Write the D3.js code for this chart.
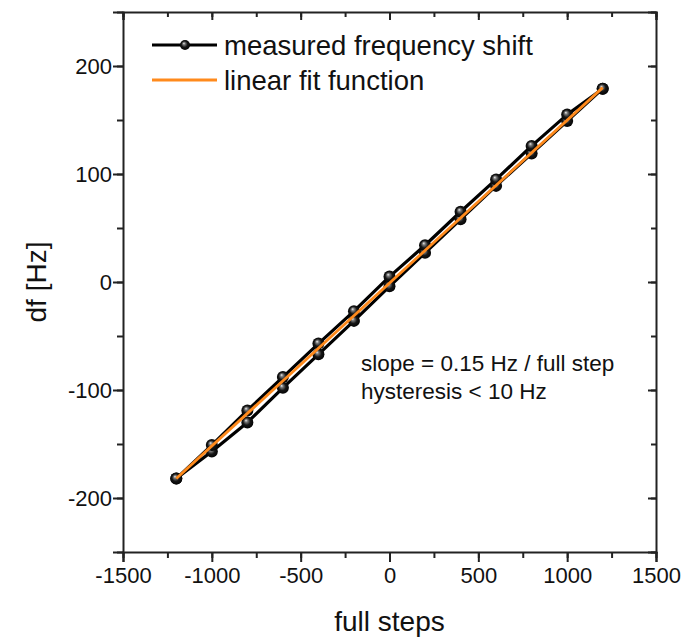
<!DOCTYPE html>
<html>
<head>
<meta charset="utf-8">
<script src="https://cdn.jsdelivr.net/npm/d3@7"></script>
<style>
    body { margin: 0; background: #fff; }
    svg text { font-family: Arial, "Liberation Sans", sans-serif; fill: #111; }
</style>
</head>
<body>
<svg id="chart" width="687" height="637"></svg>
<script>
// ---- data ----
const stepsUp = [-1200, -1000, -800, -600, -400, -200, 0, 200, 400, 600, 800, 1000, 1200];
const dfUp    = [-182, -157, -130, -98, -67, -36, -4, 27, 58, 89, 119, 149, 179];
const stepsDown = [1200, 1000, 800, 600, 400, 200, 0, -200, -400, -600, -800, -1000, -1200];
const dfDown    = [179, 155, 126, 95, 65, 34, 5, -27, -57, -88, -119, -151, -182];
const fitSteps = [-1200, 1200];
const fitDf    = [-182, 180];

const xTicks = [-1500, -1000, -500, 0, 500, 1000, 1500];
const yTicks = [-200, -100, 0, 100, 200];
const legendLabels = ['measured frequency shift', 'linear fit function'];
const noteLines = ['slope = 0.15 Hz / full step', 'hysteresis < 10 Hz'];

const orange = '#ff8a1c';
const fontStack = 'Arial, "Liberation Sans", sans-serif';

// ---- layout ----
const plotLeft = 123, plotRight = 656, plotTop = 12, plotBottom = 552;

const svg = d3.select('#chart');

const x = d3.scaleLinear().domain([-1500, 1500]).range([plotLeft, plotRight]);
const y = d3.scaleLinear().domain([-250, 250]).range([plotBottom, plotTop]);

// gradient for the spherical markers (mostly black, small highlight)
const defs = svg.append('defs');
const grad = defs.append('radialGradient')
    .attr('id', 'sphere')
    .attr('cx', '0.5').attr('cy', '0.5').attr('r', '0.55')
    .attr('fx', '0.38').attr('fy', '0.32');
grad.append('stop').attr('offset', '0%').attr('stop-color', '#f0f0f0');
grad.append('stop').attr('offset', '22%').attr('stop-color', '#7a7a7a');
grad.append('stop').attr('offset', '55%').attr('stop-color', '#161616');
grad.append('stop').attr('offset', '100%').attr('stop-color', '#000');

// ---- axes ----
const minorX = d3.range(-1500, 1501, 250);
const minorY = d3.range(-250, 251, 50);
const plain = d => String(d);

function drawAxis(axis, transform, showLabels) {
    const g = svg.append('g').attr('transform', transform).call(axis);
    g.select('.domain').attr('stroke', '#222').attr('stroke-width', 2);
    g.selectAll('.tick line').attr('stroke', '#222').attr('stroke-width', 2);
    if (!showLabels) g.selectAll('.tick text').remove();
    else g.selectAll('.tick text').attr('font-size', 22).attr('font-family', fontStack).attr('fill', '#111');
    return g;
}

// minor ticks (no domain)
function minorAxis(axis, transform) {
    const g = svg.append('g').attr('transform', transform).call(axis);
    g.select('.domain').remove();
    g.selectAll('.tick text').remove();
    g.selectAll('.tick line').attr('stroke', '#222').attr('stroke-width', 2);
}

minorAxis(d3.axisBottom(x).tickValues(minorX).tickSize(6), `translate(0,${plotBottom})`);
minorAxis(d3.axisTop(x).tickValues(minorX).tickSize(-5), `translate(0,${plotTop})`);
minorAxis(d3.axisLeft(y).tickValues(minorY).tickSize(6), `translate(${plotLeft},0)`);
minorAxis(d3.axisRight(y).tickValues(minorY).tickSize(-5), `translate(${plotRight},0)`);

drawAxis(d3.axisBottom(x).tickValues(xTicks).tickFormat(plain).tickSizeOuter(0).tickSize(10).tickPadding(5),
    `translate(0,${plotBottom})`, true);
drawAxis(d3.axisTop(x).tickValues(xTicks).tickSizeOuter(0).tickSize(-8), `translate(0,${plotTop})`, false);
drawAxis(d3.axisLeft(y).tickValues(yTicks).tickFormat(plain).tickSizeOuter(0).tickSize(10).tickPadding(1),
    `translate(${plotLeft},0)`, true);
drawAxis(d3.axisRight(y).tickValues(yTicks).tickSizeOuter(0).tickSize(-8), `translate(${plotRight},0)`, false);

// axis titles
svg.append('text')
    .attr('x', (plotLeft + plotRight) / 2).attr('y', 631)
    .attr('text-anchor', 'middle').attr('font-size', 28)
    .text('full steps');

svg.append('text')
    .attr('transform', `translate(46,${(plotTop + plotBottom) / 2}) rotate(-90)`)
    .attr('text-anchor', 'middle').attr('font-size', 28)
    .text('df [Hz]');

// ---- measured data (up sweep then down sweep) ----
const loopSteps = stepsUp.concat(stepsDown);
const loopDf = dfUp.concat(dfDown);
const pts = loopSteps.map((s, i) => [s, loopDf[i]]);

const line = d3.line().x(d => x(d[0])).y(d => y(d[1]));

svg.append('path')
    .datum(pts)
    .attr('fill', 'none')
    .attr('stroke', '#000')
    .attr('stroke-width', 3.2)
    .attr('stroke-linejoin', 'round')
    .attr('d', line);

svg.append('g').selectAll('circle')
    .data(pts)
    .enter().append('circle')
    .attr('cx', d => x(d[0]))
    .attr('cy', d => y(d[1]))
    .attr('r', 6)
    .attr('fill', 'url(#sphere)');

// ---- linear fit ----
svg.append('path')
    .datum(fitSteps.map((s, i) => [s, fitDf[i]]))
    .attr('fill', 'none')
    .attr('stroke', orange)
    .attr('stroke-width', 2.8)
    .attr('d', line);

// ---- legend ----
const lg = svg.append('g');
lg.append('line').attr('x1', 152).attr('x2', 217).attr('y1', 45).attr('y2', 45)
    .attr('stroke', '#000').attr('stroke-width', 3);
lg.append('circle').attr('cx', 185).attr('cy', 45).attr('r', 5).attr('fill', 'url(#sphere)');
lg.append('line').attr('x1', 152).attr('x2', 217).attr('y1', 80).attr('y2', 80)
    .attr('stroke', orange).attr('stroke-width', 2.8);

lg.selectAll('text')
    .data(legendLabels)
    .enter().append('text')
    .attr('x', 224)
    .attr('y', (d, i) => 55 + i * 35)
    .attr('font-size', 27.5)
    .text(d => d);

// ---- annotation ----
svg.append('g').selectAll('text')
    .data(noteLines)
    .enter().append('text')
    .attr('x', 361)
    .attr('y', (d, i) => 371 + i * 28)
    .attr('font-size', 22.5)
    .text(d => d);
</script>
</body>
</html>
